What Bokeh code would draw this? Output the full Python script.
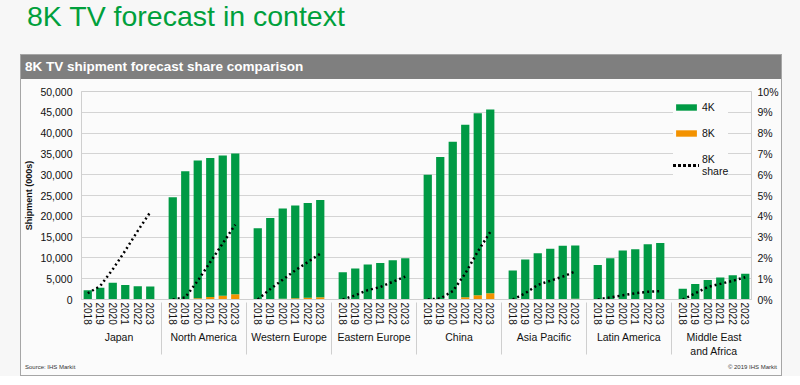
from bokeh.plotting import figure
from bokeh.models import (FactorRange, ColumnDataSource, Range1d, LinearAxis, NumeralTickFormatter,
                          PrintfTickFormatter, Legend, LegendItem, Div, SingleIntervalTicker)
from bokeh.layouts import column
from bokeh.embed import file_html
from bokeh.resources import INLINE

regions = ["Japan", "North America", "Western Europe", "Eastern Europe", "China",
           "Asia Pacific", "Latin America", "Middle East\nand Africa"]
years = ["2018", "2019", "2020", "2021", "2022", "2023"]

# 4K shipments (000s), per region, 2018..2023
k4_japan = [2195, 2780, 3940, 3410, 3090, 2970]
k4_north_america = [24600, 30770, 33100, 33390, 33670, 33840]
k4_western_europe = [17100, 19500, 21690, 22280, 22780, 23370]
k4_eastern_europe = [6560, 7425, 8360, 8745, 9360, 9790]
k4_china = [30000, 34230, 37750, 41475, 43770, 44215]
k4_asia_pacific = [7000, 9570, 11020, 12090, 12760, 12825]
k4_latin_america = [8300, 9890, 11776, 12064, 13251, 13546]
k4_mea = [2560, 3689, 4672, 5260, 5797, 6134]

# 8K shipments (000s)
k8_japan = [5, 20, 60, 90, 110, 130]
k8_north_america = [0, 30, 300, 610, 930, 1260]
k8_western_europe = [0, 100, 210, 320, 420, 530]
k8_eastern_europe = [0, 15, 40, 55, 80, 110]
k8_china = [0, 17, 150, 525, 1030, 1485]
k8_asia_pacific = [0, 30, 80, 110, 140, 175]
k8_latin_america = [0, 10, 24, 36, 49, 54]
k8_mea = [0, 11, 28, 40, 53, 66]

# 8K share (%)
share_japan = [0.3, 0.65, 1.45, 2.35, 3.3, 4.2]
share_north_america = [0.0, 0.1, 0.9, 1.8, 2.7, 3.6]
share_western_europe = [0.0, 0.5, 0.95, 1.4, 1.8, 2.2]
share_eastern_europe = [0.0, 0.2, 0.45, 0.6, 0.85, 1.1]
share_china = [0.0, 0.05, 0.4, 1.25, 2.3, 3.25]
share_asia_pacific = [0.0, 0.3, 0.7, 0.9, 1.1, 1.35]
share_latin_america = [0.0, 0.1, 0.2, 0.3, 0.37, 0.4]
share_mea = [0.0, 0.3, 0.6, 0.75, 0.9, 1.07]

k4_all = [k4_japan, k4_north_america, k4_western_europe, k4_eastern_europe,
          k4_china, k4_asia_pacific, k4_latin_america, k4_mea]
k8_all = [k8_japan, k8_north_america, k8_western_europe, k8_eastern_europe,
          k8_china, k8_asia_pacific, k8_latin_america, k8_mea]
share_all = [share_japan, share_north_america, share_western_europe, share_eastern_europe,
             share_china, share_asia_pacific, share_latin_america, share_mea]

GREEN = "#009a44"
ORANGE = "#f39200"
FONT = "Liberation Sans"
BG = "#fbfbfb"
TXT = "#111111"

factors = [(r, y) for r in regions for y in years]
src = ColumnDataSource(data=dict(
    x=factors,
    k4=[v for lst in k4_all for v in lst],
    k8=[v for lst in k8_all for v in lst],
))

p = figure(x_range=FactorRange(factors=factors, range_padding=0, group_padding=0.8),
           y_range=Range1d(0, 50000), width=760, height=282,
           output_backend="svg", toolbar_location=None,
           min_border_left=57, min_border_right=30, min_border_top=12, min_border_bottom=62,
           background_fill_color=BG, border_fill_color=BG, margin=0)
p.outline_line_color = "#cfcfcf"

rs = p.vbar_stack(["k8", "k4"], x="x", width=0.66, color=[ORANGE, GREEN],
                  line_color=None, source=src)
r8, r4 = rs

p.extra_y_ranges = {"pct": Range1d(0, 10)}
lines = []
for reg, sh in zip(regions, share_all):
    ln = p.line(x=[(reg, y) for y in years], y=sh, y_range_name="pct",
                line_color="black", line_width=2.5, line_dash="2 3")
    lines.append(ln)

# left axis
ya = p.yaxis[0]
ya.ticker = SingleIntervalTicker(interval=5000, num_minor_ticks=0)
ya.formatter = NumeralTickFormatter(format="0,0")
ya.axis_label = "Shipment (000s)"
ya.axis_label_text_font = FONT
ya.axis_label_text_font_size = "9px"
ya.axis_label_text_font_style = "bold"
ya.axis_label_text_color = TXT
ya.axis_label_standoff = 3
ya.major_label_text_font = FONT
ya.major_label_text_font_size = "10.5px"
ya.major_label_text_color = TXT
ya.major_label_standoff = 9
ya.major_tick_line_color = None
ya.major_tick_out = 0
ya.minor_tick_line_color = None
ya.minor_tick_out = 0
ya.axis_line_color = "#cfcfcf"

right = LinearAxis(y_range_name="pct",
                   ticker=SingleIntervalTicker(interval=1, num_minor_ticks=0),
                   formatter=PrintfTickFormatter(format="%d%%"))
right.major_label_text_font = FONT
right.major_label_text_font_size = "10.5px"
right.major_label_text_color = TXT
right.major_label_standoff = 6
right.major_tick_line_color = None
right.major_tick_out = 0
right.minor_tick_line_color = None
right.minor_tick_out = 0
right.axis_line_color = "#cfcfcf"
p.add_layout(right, "right")

xa = p.xaxis[0]
xa.major_label_orientation = "vertical"
xa.major_label_text_font = FONT
xa.major_label_text_font_size = "10px"
xa.major_label_text_color = TXT
xa.major_label_standoff = 3
xa.group_text_font = FONT
xa.group_text_font_size = "10.5px"
xa.group_text_font_style = "normal"
xa.group_text_color = TXT
xa.group_label_orientation = "horizontal"
xa.major_tick_line_color = None
xa.major_tick_out = 0
xa.axis_line_color = "#cfcfcf"
props = xa.properties()
if "separator_line_color" in props:
    xa.separator_line_color = "#cfcfcf"
    xa.separator_line_width = 1

p.xgrid.grid_line_color = None
p.ygrid.grid_line_color = "#d4d4d4"
p.ygrid.grid_line_width = 1

legend = Legend(items=[LegendItem(label="4K", renderers=[r4]),
                       LegendItem(label="8K", renderers=[r8]),
                       LegendItem(label="8K\nshare", renderers=lines)],
                location=(592, 122), background_fill_color=BG, background_fill_alpha=1,
                border_line_color=None, glyph_width=26, glyph_height=8,
                label_text_font=FONT, label_text_font_size="10.5px", label_text_color=TXT,
                spacing=14, padding=6, margin=0, label_standoff=3)
p.add_layout(legend)

title = Div(text="8K TV forecast in context", width=800, height=54, margin=0,
            styles={"font-family": FONT, "font-size": "28.5px", "color": "#00a03c",
                    "padding-left": "27px", "line-height": "32px",
                    "box-sizing": "border-box"})
header = Div(text="<b>8K TV shipment forecast share comparison</b>", width=760, height=24,
             margin=0,
             styles={"font-family": FONT, "font-size": "13.5px", "color": "white",
                     "background-color": "#7f7f7f", "padding-left": "4px",
                     "line-height": "24px", "box-sizing": "border-box"})
footer = Div(text=('<div style="display:flex;justify-content:space-between;width:752px;">'
                   '<span>Source: IHS Markit</span><span>© 2019 IHS Markit</span></div>'),
             width=760, height=14, margin=0,
             styles={"font-family": FONT, "font-size": "6px", "color": "#333333",
                     "padding-left": "4px", "line-height": "12px",
                     "background-color": BG, "box-sizing": "border-box"})
panel = column(header, p, footer, spacing=0, margin=0,
               styles={"border": "1px solid #a6a6a6", "margin-left": "20px",
                       "background-color": BG})
root = column(title, panel, spacing=0, margin=0, styles={"background-color": "#f7f7f7"})

open("out.html", "w").write(file_html(root, INLINE))
